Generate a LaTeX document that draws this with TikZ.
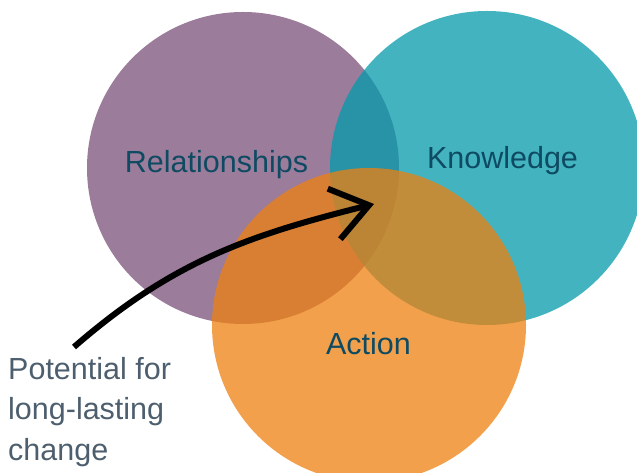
\documentclass[tikz,border=0pt]{standalone}
\usepackage{fontspec}
\setmainfont{Liberation Sans}
\usetikzlibrary{arrows.meta, positioning}

\definecolor{relpurple}{RGB}{122,80,122}
\definecolor{knowteal}{RGB}{3,154,170}
\definecolor{actorange}{RGB}{238,128,16}
\definecolor{labelblue}{RGB}{14,74,98}
\definecolor{notegray}{RGB}{77,95,110}

\tikzset{
    setlabel/.style={anchor=base, inner sep=0pt, text=labelblue, font=\fontsize{30.5}{36}\selectfont},
    notelabel/.style={anchor=north west, inner sep=0pt, align=left, text=notegray, font=\fontsize{30.5}{40.5}\selectfont}
}

\begin{document}
\begin{tikzpicture}[x=1pt, y=1pt]
        \useasboundingbox (0,0) rectangle (637,473);
        \clip (0,0) rectangle (637,473);
        % Three overlapping sets
        \fill[relpurple, fill opacity=0.75] (243,305) circle (156);
        \fill[knowteal, fill opacity=0.75] (487,305) circle (157);
        \fill[actorange, fill opacity=0.75] (369,148) circle (157);
        % Set names
        \node[setlabel] (rel) at (216.5,300) {Relationships};
        \node[setlabel] (know) at (502.5,304) {Knowledge};
        \node[setlabel] (act) at (368.5,118) {Action};
        % Note and arrow into the middle
        \node[notelabel] (note) at (8,116) {Potential for\\long-lasting\\change};
        \coordinate (start) at (74,126);
        \coordinate (centre) at (374,269);
        \draw[line width=6pt, -{Straight Barb[length=36pt, width=52pt]}] (start) to[out=41, in=194] (centre);
    \end{tikzpicture}
\end{document}
